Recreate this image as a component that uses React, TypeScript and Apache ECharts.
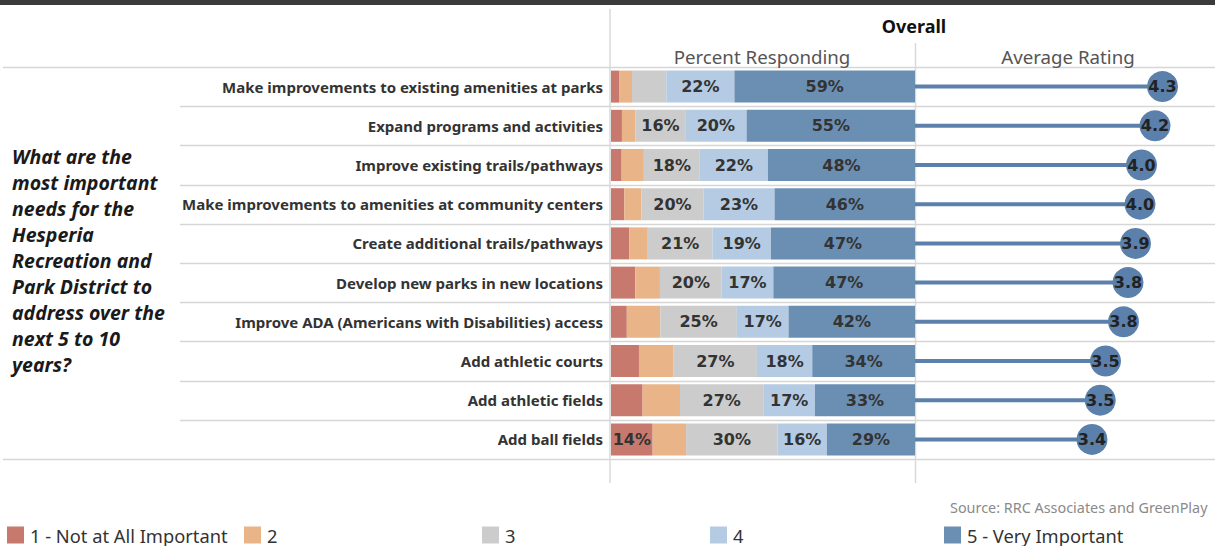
import React, { useEffect, useRef } from "react";
import * as echarts from "echarts";

const categories = [
  "Make improvements to existing amenities at parks",
  "Expand programs and activities",
  "Improve existing trails/pathways",
  "Make improvements to amenities at community centers",
  "Create additional trails/pathways",
  "Develop new parks in new locations",
  "Improve ADA (Americans with Disabilities) access",
  "Add athletic courts",
  "Add athletic fields",
  "Add ball fields",
];

const seriesNames = ["1 - Not at All Important", "2", "3", "4", "5 - Very Important"];
const pct1 = [2.8, 3.6, 3.5, 4.4, 6.0, 8.0, 5.2, 9.2, 10.4, 13.7];
const pct2 = [4.1, 4.5, 7.3, 5.6, 6.1, 8.1, 11.0, 11.4, 12.3, 11.0];
const pct3 = [11.3, 16.3, 18.4, 20.4, 21.3, 20.3, 25.2, 27.4, 27.4, 30.1];
const pct4 = [22.4, 20.2, 22.4, 23.4, 19.2, 17.0, 17.0, 18.2, 17.0, 16.2];
const pct5 = [59.4, 55.4, 48.4, 46.2, 47.4, 46.6, 41.6, 33.8, 32.9, 29.0];
const ratings = [4.3, 4.2, 4.02, 4.0, 3.94, 3.84, 3.78, 3.54, 3.47, 3.36];

const questionLines = [
  "What are the",
  "most important",
  "needs for the",
  "Hesperia",
  "Recreation and",
  "Park District to",
  "address over the",
  "next 5 to 10",
  "years?",
];

const colors = ["#c8796d", "#e8b488", "#cbcccb", "#b4cbe3", "#6b8fb3"];
const dotColor = "#5a80ab";

const W = 1215;
const H = 546;
const ROW_TOP = 67;
const ROW_H = 39.2;
const N = categories.length;
const BAR_LEFT = 611;
const BAR_W = 304;
const RATE_LEFT = 915;

export default function App() {
  const ref = useRef<HTMLDivElement>(null);

  useEffect(() => {
    if (!ref.current) return;
    const chart = echarts.init(ref.current, undefined, { renderer: "svg" });
    const pctData = [pct1, pct2, pct3, pct4, pct5];

    const barSeries = pctData.map((arr, i) => ({
      name: seriesNames[i],
      type: "bar",
      stack: "pct",
      xAxisIndex: 0,
      yAxisIndex: 0,
      barWidth: 32,
      data: arr,
      itemStyle: { color: colors[i] },
      label: {
        show: true,
        position: "inside",
        formatter: (p: any) => (p.value >= 13 ? Math.round(p.value) + "%" : ""),
        fontFamily: "DejaVu Sans",
        fontWeight: "bold",
        fontSize: 16,
        color: "#333",
      },
      emphasis: { disabled: true },
    }));

    const graphics: any[] = [];
    graphics.push({
      type: "rect",
      shape: { x: 0, y: 0, width: W, height: 5 },
      style: { fill: "#3b3b3b" },
      silent: true,
    });
    for (let i = 0; i <= N; i++) {
      const y = Math.round(ROW_TOP + i * ROW_H) + 0.5;
      const x1 = i === 0 || i === N ? 3 : 180;
      graphics.push({
        type: "line",
        shape: { x1, y1: y, x2: W, y2: y },
        style: { stroke: "#d6d6d6", lineWidth: 1.5 },
        silent: true,
        z: -1,
      });
    }
    graphics.push({
      type: "line",
      shape: { x1: 610, y1: 9, x2: 610, y2: 483 },
      style: { stroke: "#d9d9d9", lineWidth: 1.5 },
      silent: true,
      z: -1,
    });
    graphics.push({
      type: "line",
      shape: { x1: 915.5, y1: 43, x2: 915.5, y2: 483 },
      style: { stroke: "#d9d9d9", lineWidth: 1.5 },
      silent: true,
      z: -1,
    });
    graphics.push({
      type: "text",
      x: 914,
      y: 26,
      style: {
        text: "Overall",
        fontFamily: "Noto Sans",
        fontWeight: "bold",
        fontSize: 18,
        fill: "#111",
        align: "center",
        verticalAlign: "middle",
      },
    });
    graphics.push({
      type: "text",
      x: 762,
      y: 56,
      style: {
        text: "Percent Responding",
        fontFamily: "Noto Sans",
        fontSize: 18.7,
        fill: "#555",
        align: "center",
        verticalAlign: "middle",
      },
    });
    graphics.push({
      type: "text",
      x: 1068,
      y: 56,
      style: {
        text: "Average Rating",
        fontFamily: "Noto Sans",
        fontSize: 18.7,
        fill: "#555",
        align: "center",
        verticalAlign: "middle",
      },
    });
    graphics.push({
      type: "text",
      x: 12,
      y: 143,
      style: {
        text: questionLines.join("\n"),
        fontFamily: "Noto Sans",
        fontWeight: "bold",
        fontStyle: "italic",
        fontSize: 19.5,
        lineHeight: 26,
        fill: "#1a1a1a",
        align: "left",
        verticalAlign: "top",
      },
    });
    graphics.push({
      type: "text",
      x: 950,
      y: 507,
      style: {
        text: "Source: RRC Associates and GreenPlay",
        fontFamily: "Noto Sans",
        fontSize: 14.4,
        fill: "#8a8a8a",
        align: "left",
        verticalAlign: "middle",
      },
    });

    const legendLefts = [7, 244, 482, 710, 944];
    const legends = seriesNames.map((n, i) => ({
      data: [n],
      left: legendLefts[i],
      top: 526,
      itemWidth: 17,
      itemHeight: 17,
      icon: "rect",
      itemGap: 0,
      selectedMode: false,
      padding: 0,
      textStyle: {
        fontFamily: "Noto Sans",
        fontSize: 18.3,
        lineHeight: 18,
        color: "#333",
        padding: [0, 0, 0, 1],
      },
    }));

    chart.setOption({
      animation: false,
      legend: legends,
      graphic: graphics,
      grid: [
        { left: BAR_LEFT, top: ROW_TOP, width: BAR_W, height: ROW_H * N, containLabel: false },
        { left: RATE_LEFT, top: ROW_TOP, width: 304, height: ROW_H * N, containLabel: false },
      ],
      xAxis: [
        { type: "value", gridIndex: 0, min: 0, max: 100, show: false },
        { type: "value", gridIndex: 1, min: 1, max: 5, show: false },
      ],
      yAxis: [
        {
          type: "category",
          gridIndex: 0,
          data: categories,
          inverse: true,
          axisLine: { show: false },
          axisTick: { show: false },
          splitLine: { show: false },
          axisLabel: {
            margin: 8,
            fontFamily: "Noto Sans",
            fontWeight: "bold",
            fontSize: 15,
            color: "#333",
          },
        },
        {
          type: "category",
          gridIndex: 1,
          data: categories,
          inverse: true,
          show: false,
        },
      ],
      series: [
        ...barSeries,
        {
          name: "stem",
          type: "bar",
          xAxisIndex: 1,
          yAxisIndex: 1,
          barWidth: 4,
          data: ratings,
          itemStyle: { color: dotColor },
          emphasis: { disabled: true },
        },
        {
          name: "rating",
          type: "scatter",
          xAxisIndex: 1,
          yAxisIndex: 1,
          symbol: "circle",
          symbolSize: 31,
          data: ratings.map((v, i) => [v, i]),
          itemStyle: { color: dotColor, opacity: 1 },
          label: {
            show: true,
            position: "inside",
            formatter: (p: any) => p.value[0].toFixed(1),
            fontFamily: "DejaVu Sans",
            fontWeight: "bold",
            fontSize: 16,
            color: "#222",
          },
          z: 3,
          emphasis: { disabled: true },
        },
      ],
    });

    return () => chart.dispose();
  }, []);

  return (
    <div
      ref={ref}
      style={{ position: "absolute", left: 0, top: 0, width: W, height: H, background: "#fff" }}
    />
  );
}
